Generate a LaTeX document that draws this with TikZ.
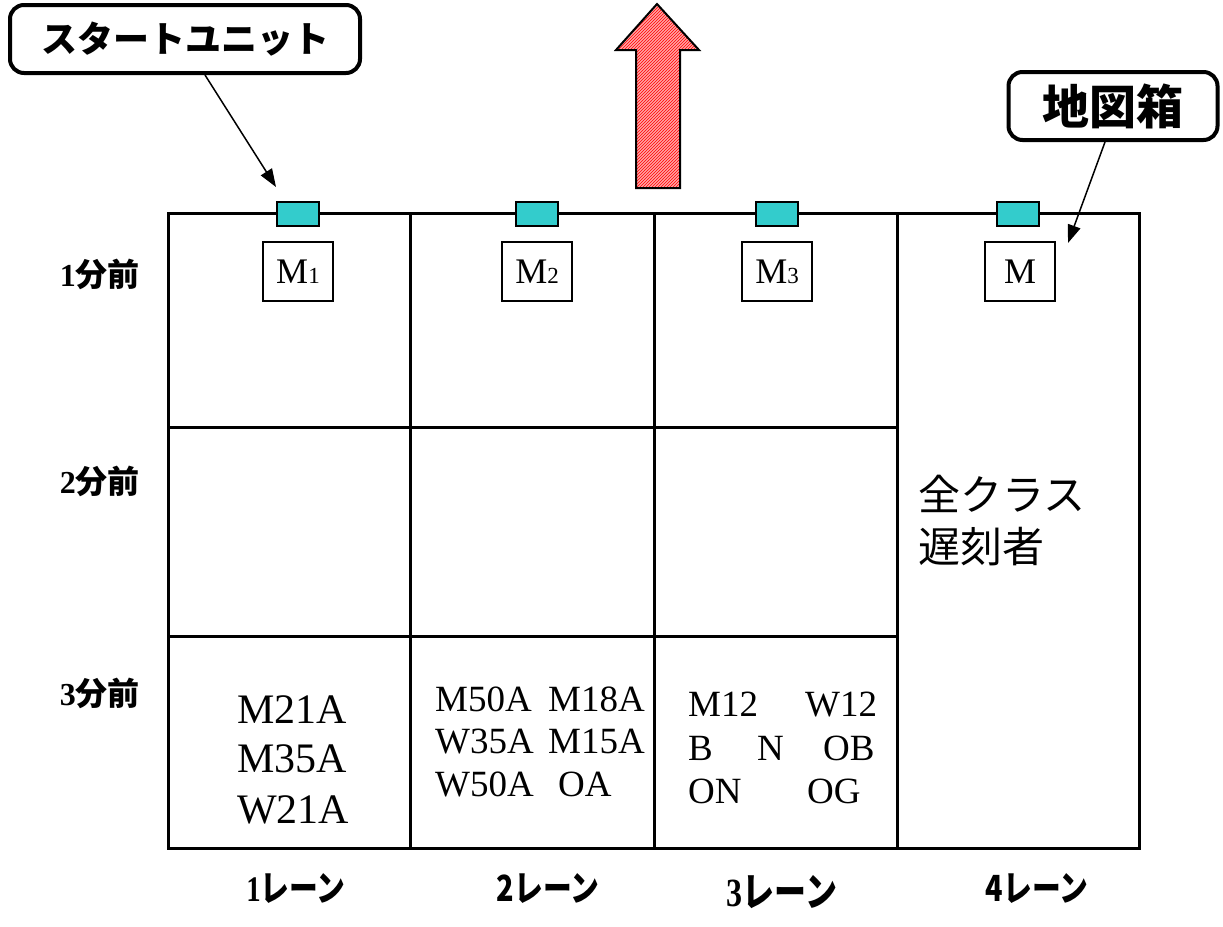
\documentclass[tikz,border=0pt]{standalone}
\usepackage{fontspec}
\usepackage{graphicx}
\setmainfont{Liberation Serif}
\newfontfamily\jp{Noto Sans CJK JP}
\usetikzlibrary{arrows.meta,patterns}
\definecolor{unitteal}{HTML}{33CCCC}
\newcommand{\fs}[1]{\fontsize{#1}{#1}\selectfont}
\tikzset{
  gridline/.style={line width=3pt},
  mbox/.style={draw, line width=1.2pt, minimum width=70pt, minimum height=59pt, inner sep=0pt},
  unitbox/.style={draw, line width=1.3pt, fill=unitteal, minimum width=42pt, minimum height=24pt, inner sep=0pt},
  callout/.style={draw, line width=4pt, rounded corners=14pt, inner sep=0pt, fill=white},
  pointer/.style={line width=1.5pt, -{Triangle[length=18pt,width=13pt]}},
  rowlab/.style={anchor=east, inner sep=0pt, font=\fs{32}\bfseries},
  lanelab/.style={inner sep=0pt},
  cellA/.style={anchor=base west, inner sep=0pt, font=\fs{42}},
  cellB/.style={anchor=base west, inner sep=0pt, font=\fs{37}},
  cellJ/.style={anchor=west, inner sep=0pt, font=\jp\fs{42}},
  bigarrow/.style={line width=2pt, preaction={fill=red!35}, pattern=north east lines, pattern color=red}
}
\begin{document}
\begin{tikzpicture}[x=1pt,y=-1pt]
\useasboundingbox (0,0) rectangle (1223,926);

% grid
\draw[gridline] (168,213) rectangle (1139,848);
\draw[gridline] (410,213) -- (410,848);
\draw[gridline] (654,213) -- (654,848);
\draw[gridline] (897,213) -- (897,848);
\draw[gridline] (168,427) -- (897,427);
\draw[gridline] (168,636) -- (897,636);

% big hatched arrow
\draw[bigarrow] (657,4) -- (699,50) -- (680,50) -- (680,188) -- (636,188) -- (636,50) -- (616,50) -- cycle;

% start units
\node[unitbox] (u1) at (298,214) {};
\node[unitbox] (u2) at (537,214) {};
\node[unitbox] (u3) at (777,214) {};
\node[unitbox] (u4) at (1018,214) {};

% map boxes
\node[mbox] (m1) at (298,271.5) {\fs{36}M\fs{23}1};
\node[mbox] (m2) at (537,271.5) {\fs{36}M\fs{23}2};
\node[mbox] (m3) at (777,271.5) {\fs{36}M\fs{23}3};
\node[mbox] (m4) at (1020,271.5) {\fs{36}M};

% callouts
\node[callout, minimum width=350pt, minimum height=68pt] (su) at (185,39) {\jp\bfseries\fs{36}スタートユニット};
\node[callout, minimum width=209pt, minimum height=68pt] (mb) at (1113,106) {\jp\bfseries\fs{47}地図箱};
\coordinate (s1) at (205,0);
\coordinate (t1) at (276,187);
\coordinate (s2) at (1105,0);
\coordinate (t2) at (1068,243);
\draw[pointer] (su.south -| s1) -- (t1);
\draw[pointer] (mb.south -| s2) -- (t2);

% row labels
\node[rowlab] (r1) at (140,274) {1{\jp 分前}};
\node[rowlab] (r2) at (140,481) {2{\jp 分前}};
\node[rowlab] (r3) at (140,693) {3{\jp 分前}};

% lane labels
\node[lanelab] (l1) at (296,889) {\scalebox{0.8}[1]{\fs{36}\bfseries 1{\jp レーン}}};
\node[lanelab] (l2) at (548,889) {\scalebox{0.8}[1]{\jp\bfseries\fs{36}2レーン}};
\node[lanelab] (l3) at (782,892) {\scalebox{0.8}[1]{\fs{40}\bfseries 3{\jp レーン}}};
\node[lanelab] (l4) at (1037,889) {\scalebox{0.8}[1]{\jp\bfseries\fs{36}4レーン}};

% lane 1 cell
\node[cellA] (a1) at (237,723) {M21A};
\node[cellA] (a2) at (237,772) {M35A};
\node[cellA] (a3) at (237,823) {W21A};

% lane 2 cell
\node[cellB] (b1) at (435,711) {M50A};
\node[cellB] (b2) at (548,711) {M18A};
\node[cellB] (b3) at (435,753) {W35A};
\node[cellB] (b4) at (548,753) {M15A};
\node[cellB] (b5) at (435,796) {W50A};
\node[cellB] (b6) at (558,796) {OA};

% lane 3 cell
\node[cellB] (c1) at (688,716) {M12};
\node[cellB] (c2) at (805,716) {W12};
\node[cellB] (c3) at (688,760) {B};
\node[cellB] (c4) at (757,760) {N};
\node[cellB] (c5) at (823,760) {OB};
\node[cellB] (c6) at (688,803) {ON};
\node[cellB] (c7) at (807,803) {OG};

% lane 4 cell
\node[cellJ] (d1) at (918,494) {全クラス};
\node[cellJ] (d2) at (918,547) {遅刻者};
\end{tikzpicture}
\end{document}
